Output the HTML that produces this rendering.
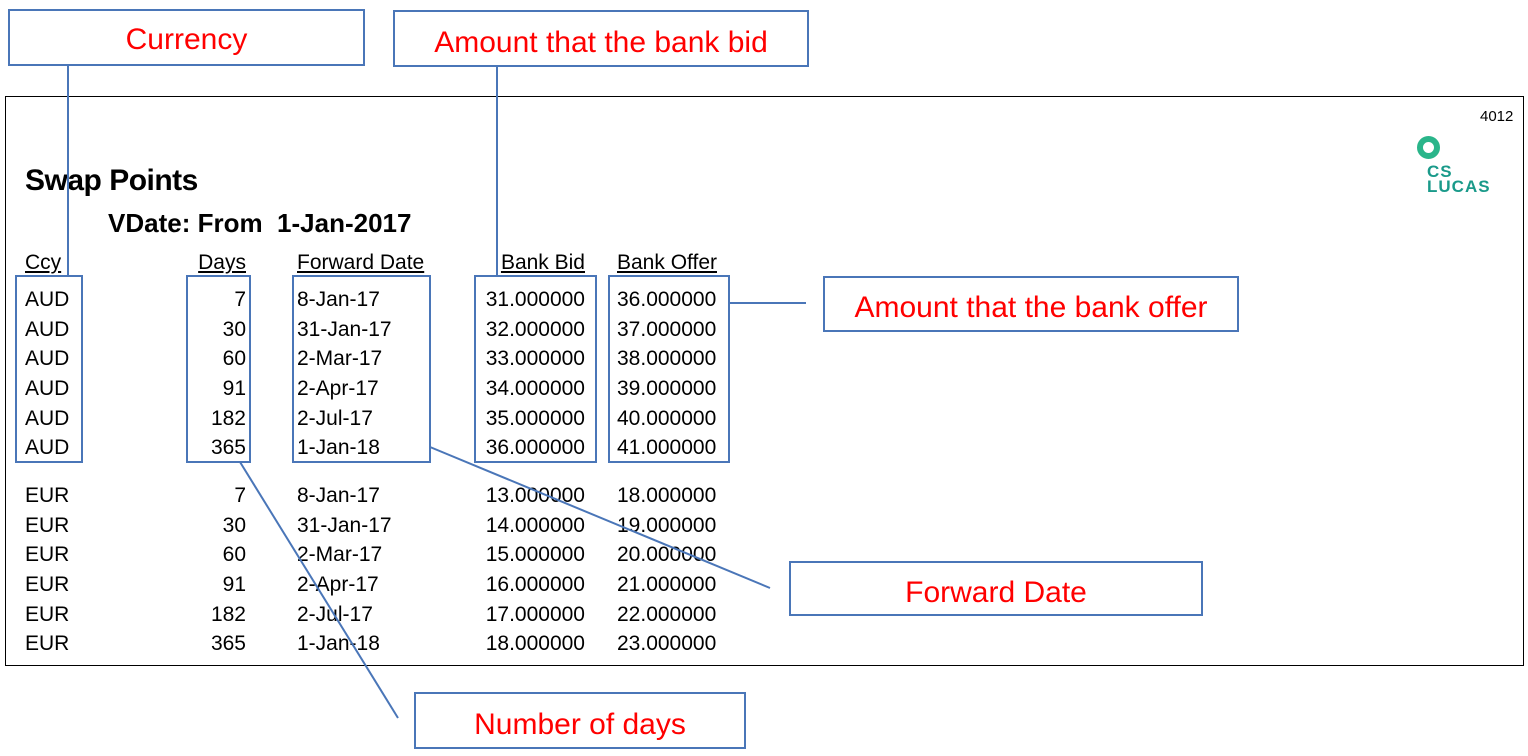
<!DOCTYPE html>
<html><head><style>
body{margin:0;width:1528px;height:750px;background:#fff;position:relative;overflow:hidden;font-family:"Liberation Sans",Arial,sans-serif}
.t{position:absolute;color:#000;font-size:21px;white-space:nowrap;line-height:1}
.r{text-align:right}
.lab{position:absolute;border:2px solid #4a76b8;box-sizing:border-box;color:#f00;font-size:30px;text-align:center;background:#fff}
.u{text-decoration:underline}
</style></head><body>
<div style="position:absolute;left:5px;top:96px;width:1519px;height:570px;border:1px solid #000;box-sizing:border-box"></div>
<div class="t" style="left:1480px;top:109px;font-size:15px">4012</div>
<div style="position:absolute;left:1417px;top:136px;width:11px;height:11px;border:6px solid #2ab58a;border-radius:50%"></div>
<div class="t" style="left:1427px;top:164px;font-size:17px;font-weight:bold;color:#1a9a8a;line-height:15px;letter-spacing:1px">CS<br>LUCAS</div>
<div class="t" style="left:25px;top:166px;font-size:30px;font-weight:bold;letter-spacing:-0.5px">Swap Points</div>
<div class="t" style="left:108px;top:210px;font-size:26px;font-weight:bold">VDate: From&nbsp; 1-Jan-2017</div>
<div class="t u" style="left:25px;top:252px">Ccy</div>
<div class="t u r" style="left:150px;width:96px;top:252px">Days</div>
<div class="t u" style="left:297px;top:252px">Forward Date</div>
<div class="t u r" style="left:450px;width:135px;top:252px">Bank Bid</div>
<div class="t u" style="left:617px;top:252px">Bank Offer</div>
<div id="rows"></div>
<script>
var ys=[299,329,358,388,418,447,495,525,554,584,614,643];
var d=[7,30,60,91,182,365],fd=["8-Jan-17","31-Jan-17","2-Mar-17","2-Apr-17","2-Jul-17","1-Jan-18"];
var h="";
for(var i=0;i<12;i++){var k=i%6,c=i<6?"AUD":"EUR",b=(i<6?31:13)+k,o=b+5,y=ys[i]-10;
h+='<div class="t" style="left:25px;top:'+y+'px">'+c+'</div>';
h+='<div class="t r" style="left:150px;width:96px;top:'+y+'px">'+d[k]+'</div>';
h+='<div class="t" style="left:297px;top:'+y+'px">'+fd[k]+'</div>';
h+='<div class="t r" style="left:450px;width:135px;top:'+y+'px">'+b+'.000000</div>';
h+='<div class="t" style="left:617px;top:'+y+'px">'+o+'.000000</div>';}
document.getElementById("rows").innerHTML=h;
</script>
<svg width="1528" height="750" style="position:absolute;left:0;top:0" fill="none" stroke="#4a76b8" stroke-width="2">
<rect x="16" y="276" width="66" height="186"/>
<rect x="187" y="276" width="63" height="186"/>
<rect x="293" y="276" width="137" height="186"/>
<rect x="475" y="276" width="121" height="186"/>
<rect x="609" y="276" width="120" height="186"/>
<line x1="68" y1="66" x2="68" y2="276"/>
<line x1="497" y1="66" x2="497" y2="276"/>
<line x1="729" y1="303" x2="806" y2="303"/>
<line x1="430" y1="447" x2="770" y2="588"/>
<line x1="240" y1="462" x2="398" y2="718"/>
</svg>
<div class="lab" style="left:8px;top:9px;width:357px;height:57px;line-height:58px">Currency</div>
<div class="lab" style="left:393px;top:10px;width:416px;height:57px;line-height:62px">Amount that the bank bid</div>
<div class="lab" style="left:823px;top:276px;width:416px;height:56px;line-height:60px">Amount that the bank offer</div>
<div class="lab" style="left:789px;top:561px;width:414px;height:55px;line-height:60px">Forward Date</div>
<div class="lab" style="left:414px;top:692px;width:332px;height:57px;line-height:62px">Number of days</div>
</body></html>
